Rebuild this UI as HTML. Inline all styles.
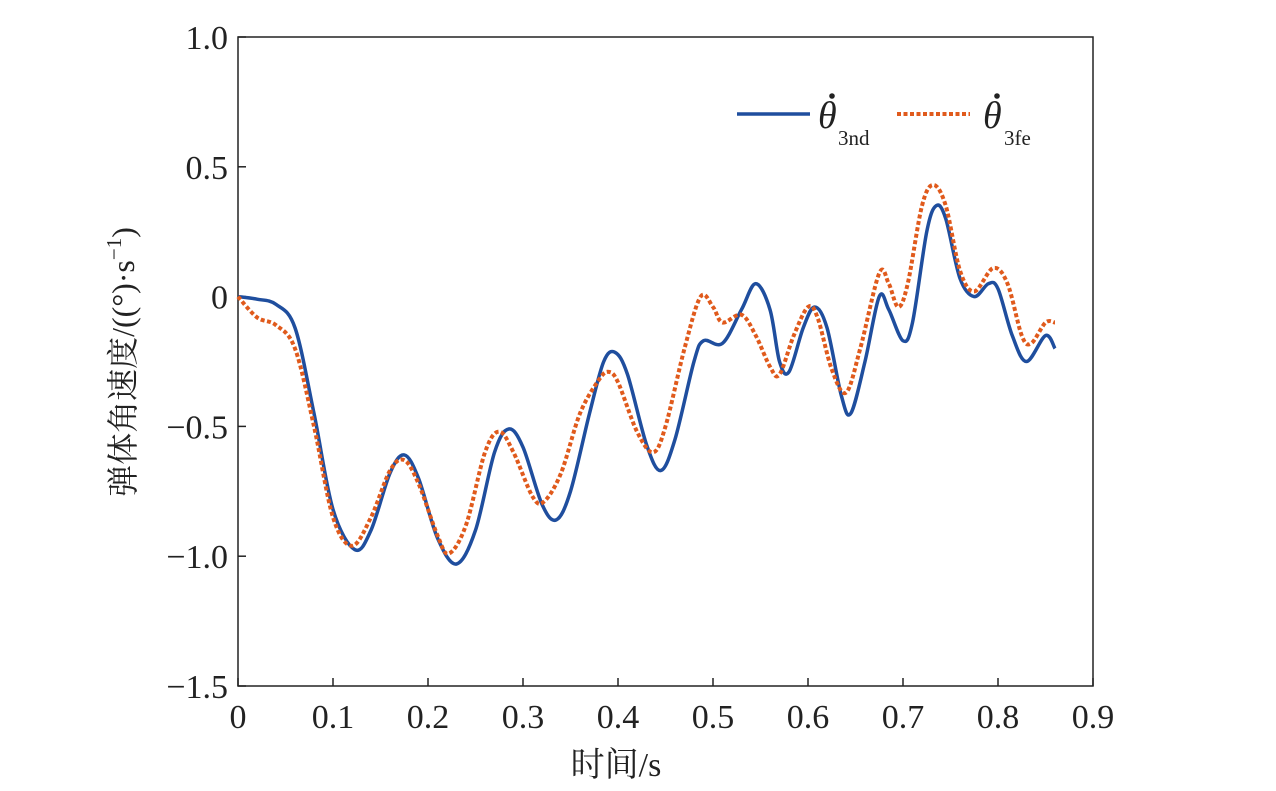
<!DOCTYPE html>
<html><head><meta charset="utf-8"><style>
body{margin:0;background:#fff}
svg text{font-family:"Liberation Serif","Noto Serif CJK SC",serif;fill:#222}
</style></head><body>
<svg width="1276" height="786" xmlns="http://www.w3.org/2000/svg">
<g id="axes"></g>
<path id="blue" fill="none" stroke="#1f4e9e" stroke-width="3.5"/>
<path id="orange" fill="none" stroke="#e05a1c" stroke-width="4" stroke-dasharray="4,2.5"/>
<g>
<line x1="737" y1="114" x2="810" y2="114" stroke="#1f4e9e" stroke-width="3.5"/>
<text x="818" y="128" font-size="38" font-style="italic">θ</text><circle cx="832" cy="96" r="2.8" fill="#222"/>
<text x="838" y="145" font-size="21">3nd</text>
<line x1="897" y1="114" x2="970" y2="114" stroke="#e05a1c" stroke-width="4" stroke-dasharray="4,2.5"/>
<text x="983" y="128" font-size="38" font-style="italic">θ</text><circle cx="997" cy="96" r="2.8" fill="#222"/>
<text x="1004" y="145" font-size="21">3fe</text>
</g>
<text x="616" y="776" font-size="34" text-anchor="middle">时间/s</text>
<text transform="translate(134,362) rotate(-90)" font-size="32" text-anchor="middle">弹体角速度/((°)·s<tspan font-size="21" dy="-13">−1</tspan><tspan dy="13">)</tspan></text>
</svg>
<script>
const xTicks=[0,0.1,0.2,0.3,0.4,0.5,0.6,0.7,0.8,0.9];
const yTicks=[1.0,0.5,0,-0.5,-1.0,-1.5];
const yTickLabels=["1.0","0.5","0","−0.5","−1.0","−1.5"];
const tBlue=[0,0.02,0.04,0.06,0.08,0.10,0.123,0.14,0.16,0.175,0.19,0.21,0.23,0.25,0.27,0.285,0.30,0.32,0.335,0.35,0.37,0.385,0.397,0.41,0.43,0.445,0.46,0.48,0.49,0.51,0.53,0.545,0.56,0.57,0.58,0.595,0.607,0.62,0.635,0.645,0.66,0.675,0.685,0.70,0.71,0.725,0.735,0.745,0.76,0.775,0.79,0.80,0.815,0.83,0.85,0.86];
const vBlue=[0,-0.01,-0.03,-0.12,-0.45,-0.82,-0.975,-0.9,-0.68,-0.61,-0.7,-0.93,-1.03,-0.9,-0.6,-0.51,-0.58,-0.8,-0.86,-0.75,-0.45,-0.25,-0.215,-0.3,-0.57,-0.67,-0.55,-0.25,-0.17,-0.18,-0.05,0.05,-0.05,-0.25,-0.29,-0.12,-0.04,-0.12,-0.38,-0.45,-0.25,0.0,-0.05,-0.17,-0.1,0.25,0.35,0.3,0.07,0.0,0.05,0.03,-0.15,-0.25,-0.15,-0.2];
const tOrange=[0,0.02,0.04,0.06,0.08,0.10,0.12,0.14,0.16,0.175,0.19,0.21,0.222,0.24,0.26,0.275,0.29,0.31,0.322,0.34,0.36,0.38,0.39,0.40,0.42,0.437,0.45,0.47,0.487,0.50,0.51,0.53,0.545,0.56,0.57,0.585,0.60,0.61,0.625,0.64,0.655,0.675,0.685,0.695,0.705,0.72,0.732,0.745,0.76,0.775,0.795,0.81,0.825,0.835,0.85,0.86];
const vOrange=[0,-0.08,-0.11,-0.2,-0.5,-0.85,-0.96,-0.85,-0.67,-0.63,-0.72,-0.92,-0.99,-0.88,-0.6,-0.52,-0.6,-0.77,-0.79,-0.68,-0.45,-0.32,-0.29,-0.33,-0.52,-0.6,-0.5,-0.2,0.0,-0.04,-0.1,-0.07,-0.15,-0.27,-0.3,-0.15,-0.04,-0.08,-0.28,-0.37,-0.2,0.09,0.05,-0.04,0.05,0.35,0.43,0.35,0.1,0.02,0.11,0.05,-0.15,-0.18,-0.1,-0.1];
const X0=238,X1=1093,Y0=37,Y1=686;
const sx=t=>X0+(t-0)/0.9*(X1-X0);
const sy=v=>Y0+(1.0-v)/2.5*(Y1-Y0);
const NS="http://www.w3.org/2000/svg";
const ax=document.getElementById('axes');
function mk(tag,attrs){const e=document.createElementNS(NS,tag);for(const k in attrs)e.setAttribute(k,attrs[k]);ax.appendChild(e);return e;}
const frame=mk('rect',{x:X0,y:Y0,width:X1-X0,height:Y1-Y0,fill:'none',stroke:'#222','stroke-width':1.5});


xTicks.forEach(t=>{
 const l=mk('line',{x1:sx(t),x2:sx(t),y1:Y1,y2:Y1-8,stroke:'#222','stroke-width':1.5});
 
 
 const tx=mk('text',{x:sx(t),y:Y1+42,'font-size':34,'text-anchor':'middle'});
 tx.textContent=t===0?'0':t.toFixed(1);
 
 
});
yTicks.forEach((v,i)=>{
 const l=mk('line',{x1:X0,x2:X0+8,y1:sy(v),y2:sy(v),stroke:'#222','stroke-width':1.5});
 
 
 const tx=mk('text',{x:X0-10,y:sy(v)+12,'font-size':34,'text-anchor':'end'});
 tx.textContent=yTickLabels[i];
 
 
});
function smooth(ts,vs){
 const p=ts.map((t,i)=>[sx(t),sy(vs[i])]);
 let d=`M${p[0][0]},${p[0][1]}`;
 for(let i=0;i<p.length-1;i++){
  const a=p[Math.max(0,i-1)],b=p[i],c=p[i+1],e=p[Math.min(p.length-1,i+2)];
  const c1=[b[0]+(c[0]-a[0])/6,b[1]+(c[1]-a[1])/6],c2=[c[0]-(e[0]-b[0])/6,c[1]-(e[1]-b[1])/6];
  d+=` C${c1[0]},${c1[1]} ${c2[0]},${c2[1]} ${c[0]},${c[1]}`;
 }
 return d;
}
document.getElementById('blue').setAttribute('d',smooth(tBlue,vBlue));
document.getElementById('orange').setAttribute('d',smooth(tOrange,vOrange));
</script>
</body></html>
